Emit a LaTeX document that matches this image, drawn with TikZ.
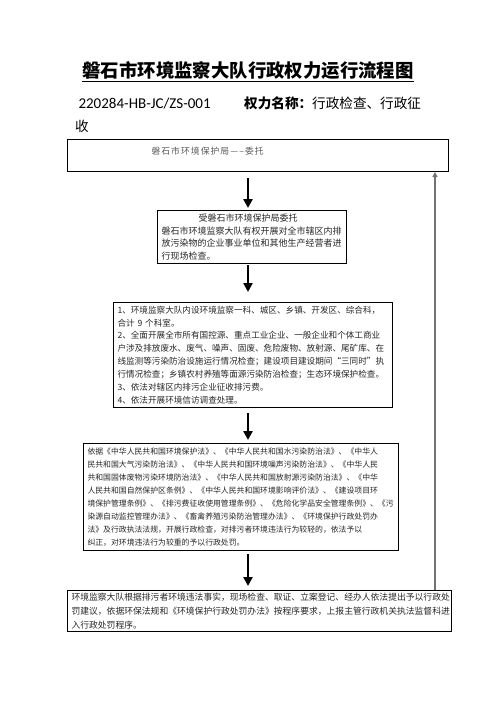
\documentclass[tikz,border=0pt]{standalone}
\usepackage{fontspec}
\setmainfont{Noto Sans CJK SC}
\newfontfamily\latinsans{Carlito}
\usetikzlibrary{arrows.meta}

\begin{document}
\begin{tikzpicture}[x=1pt, y=-1pt,
    box/.style={draw, line width=1pt, anchor=north west, inner xsep=4pt, inner ysep=2pt, align=left, text=black!85},
    flow/.style={line width=2.8pt, -{Triangle[width=9pt,length=9pt]}},
    feedback/.style={draw=black!55, line width=1.3pt, -{Triangle[width=5pt,length=5pt]}}]
    \useasboundingbox (0,0) rectangle (496,702);

    % heading
    \node[font=\bfseries\fontsize{18.4}{20}\selectfont] (title) at (248,72) {\underline{磐石市环境监察大队行政权力运行流程图}};
    \node[anchor=base west, font=\latinsans\fontsize{15}{18}\selectfont] (code) at (75,108) {220284-HB-JC/ZS-001};
    \node[anchor=base west, inner sep=0pt, font=\fontsize{13.6}{16}\selectfont] (power) at (244,108) {\textbf{权力名称：}行政检查、行政征};
    \node[anchor=base west, inner sep=0pt, font=\fontsize{13.6}{16}\selectfont] (powerwrap) at (75,131) {收};

    % boxes
    \node[box, text width=373pt, minimum height=32pt, text height=11pt, text depth=13pt, text=black!65,
          font=\addfontfeatures{LetterSpace=12}\fontsize{8.8}{11}\selectfont] (bureau) at (67,139)
        {\hspace*{80pt}磐石市环境保护局-----委托};
    \node[box, text width=181pt, minimum height=53pt, font=\fontsize{9}{12.6}\selectfont] (entrust) at (157,210)
        {\hspace*{37pt}受磐石市环境保护局委托\\
         磐石市环境监察大队有权开展对全市辖区内排\\
         放污染物的企业事业单位和其他生产经营者进\\
         行现场检查。};
    \node[box, text width=271pt, minimum height=105pt, font=\fontsize{8.6}{12.9}\selectfont] (duties) at (113,302)
        {1、环境监察大队内设环境监察一科、城区、乡镇、开发区、综合科，\\
         合计 9 个科室。\\
         2、全面开展全市所有国控源、重点工业企业、一般企业和个体工商业\\
         户涉及排放废水、废气、噪声、固废、危险废物、放射源、尾矿库、在\\
         线监测等污染防治设施运行情况检查；建设项目建设期间“三同时”执\\
         行情况检查；乡镇农村养殖等面源污染防治检查；生态环境保护检查。\\
         3、依法对辖区内排污企业征收排污费。\\
         4、依法开展环境信访调查处理。};
    \node[box, text width=307pt, minimum height=107pt, font=\fontsize{7.85}{13.1}\selectfont] (basis) at (83,443)
        {依据《中华人民共和国环境保护法》、《中华人民共和国水污染防治法》、《中华人\\
         民共和国大气污染防治法》、《中华人民共和国环境噪声污染防治法》、《中华人民\\
         共和国固体废物污染环境防治法》、《中华人民共和国放射源污染防治法》、《中华\\
         人民共和国自然保护区条例》、《中华人民共和国环境影响评价法》、《建设项目环\\
         境保护管理条例》、《排污费征收使用管理条例》、《危险化学品安全管理条例》、《污\\
         染源自动监控管理办法》、《畜禽养殖污染防治管理办法》、《环境保护行政处罚办\\
         法》及行政执法法规，开展行政检查，对排污者环境违法行为较轻的，依法予以\\
         纠正，对环境违法行为较重的予以行政处罚。};
    \node[box, text width=376pt, minimum height=41pt, font=\fontsize{8.8}{14}\selectfont] (penalty) at (67,590)
        {环境监察大队根据排污者环境违法事实，现场检查、取证、立案登记、经办人依法提出予以行政处\\
         罚建议，依据环保法规和《环境保护行政处罚办法》按程序要求，上报主管行政机关执法监督科进\\
         入行政处罚程序。};

    % arrows down the middle
    \coordinate (col) at (248,0);
    \draw[flow] ([yshift=-6pt]bureau.south -| col) -- ([yshift=2pt]entrust.north -| col);
    \draw[flow] ([yshift=-1pt]entrust.south -| col) -- ([yshift=10pt]duties.north -| col);
    \draw[flow] ([yshift=-5pt]duties.south -| col) -- ([yshift=3pt]basis.north -| col);
    \draw[flow] ([yshift=-3pt]basis.south -| col) -- ([yshift=4pt]penalty.north -| col);

    % line back up the right side
    \coordinate (back) at (435,0);
    \draw[feedback] (penalty.north -| back) -- (bureau.south -| back);
\end{tikzpicture}
\end{document}
